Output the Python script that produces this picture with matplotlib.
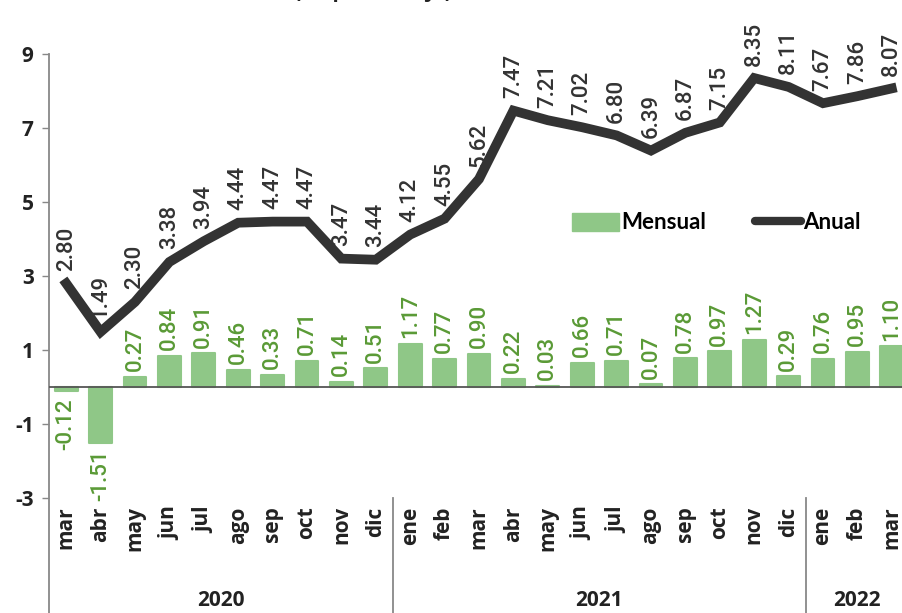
import numpy as np
import matplotlib.pyplot as plt
from matplotlib.patches import Patch
from matplotlib.lines import Line2D

plt.rcParams["axes.unicode_minus"] = False

meses = ["mar", "abr", "may", "jun", "jul", "ago", "sep", "oct", "nov", "dic",
         "ene", "feb", "mar", "abr", "may", "jun", "jul", "ago", "sep", "oct", "nov", "dic",
         "ene", "feb", "mar"]
anios = ["2020", "2021", "2022"]
anio_rango = [(0, 9), (10, 21), (22, 24)]

mensual = [-0.12, -1.51, 0.27, 0.84, 0.91, 0.46, 0.33, 0.71, 0.14, 0.51,
           1.17, 0.77, 0.90, 0.22, 0.03, 0.66, 0.71, 0.07, 0.78, 0.97, 1.27, 0.29,
           0.76, 0.95, 1.10]
anual = [2.80, 1.49, 2.30, 3.38, 3.94, 4.44, 4.47, 4.47, 3.47, 3.44,
         4.12, 4.55, 5.62, 7.47, 7.21, 7.02, 6.80, 6.39, 6.87, 7.15, 8.35, 8.11,
         7.67, 7.86, 8.07]

verde = "#8fc787"
verde_txt = "#5a9a36"
gris = "#333333"

fig = plt.figure(figsize=(9.03, 6.13), dpi=100)
W, H = 903, 613
# ejes colocados a mano (en pixeles)
x0, x1 = 49, 909
y_bot, y_top = 498, 6
ax = fig.add_axes([x0 / W, 1 - y_bot / H, (x1 - x0) / W, (y_bot - y_top) / H])
ymin = -3
ymax = -3 + (y_bot - y_top) / 37.0
ax.set_xlim(-0.5, 24.5)
ax.set_ylim(ymin, ymax)

x = np.arange(len(meses))
ax.bar(x, mensual, width=0.66, color=verde, edgecolor=verde, linewidth=1.5,
       joinstyle="round", zorder=2)
ax.plot(x, anual, color=gris, lw=7, solid_joinstyle="miter", zorder=5)

for i, v in enumerate(anual):
    ax.annotate(f"{v:.2f}", (i, v), xytext=(0, 9), textcoords="offset points",
                rotation=90, ha="center", va="bottom", fontsize=16,
                family="Roboto", fontweight="medium", color=gris, zorder=3)
for i, v in enumerate(mensual):
    off = 4 if v >= 0 else -5
    ax.annotate(f"{v:.2f}", (i, v), xytext=(0, off), textcoords="offset points",
                rotation=90, ha="center", va="bottom" if v >= 0 else "top",
                fontsize=16, family="Roboto", fontweight="medium",
                color=verde_txt, zorder=3)

# linea cero
ax.axhline(0, color="#555555", lw=1.3, zorder=4)

for s in ax.spines.values():
    s.set_visible(False)
y_fondo = -(H - 387) / 37.0
ax.plot([-0.5, -0.5], [9, y_fondo], color="#888888", lw=1.3, clip_on=False)
for a, b in anio_rango[1:]:
    ax.plot([a - 0.5, a - 0.5], [-3, y_fondo], color="#888888", lw=1.3, clip_on=False)

ax.set_yticks([-3, -1, 1, 3, 5, 7, 9])
ax.tick_params(axis="y", length=5, width=1, color="#888888", pad=6)
for t in ax.get_yticklabels():
    t.set_fontsize(15)
    t.set_fontweight("bold")
    t.set_family("Open Sans")
    t.set_color("#222222")

ax.set_xticks(x)
ax.set_xticklabels(meses, rotation=90, fontsize=15, fontweight="bold",
                   family="Open Sans", color="#222222")
ax.tick_params(axis="x", length=0, pad=6)

for nombre, (a, b) in zip(anios, anio_rango):
    ax.text((a + b) / 2, -(600 - 387) / 37.0, nombre, ha="center", va="center",
            fontsize=15, fontweight="bold", family="Open Sans", color="#222222",
            clip_on=False)

handles = [Patch(facecolor=verde, edgecolor=verde, label="Mensual"),
           Line2D([0], [0], color=gris, lw=6, solid_capstyle="round", label="Anual")]
fig.legend(handles=handles, loc="center left", bbox_to_anchor=(552 / W, 1 - 223 / H),
           ncol=2, frameon=False, handlelength=2.1, handleheight=0.9,
           handletextpad=0.1, columnspacing=2.2,
           prop={"family": "Lato", "weight": "bold", "size": 16})

# titulo recortado arriba, como en la imagen original
fig.text(373 / W, 1 + 3 / H, "(en porcentaje)", ha="center", va="baseline",
         fontsize=15, fontweight="bold", family="Open Sans", color="#222222")

fig.savefig("out.png", dpi=100)
